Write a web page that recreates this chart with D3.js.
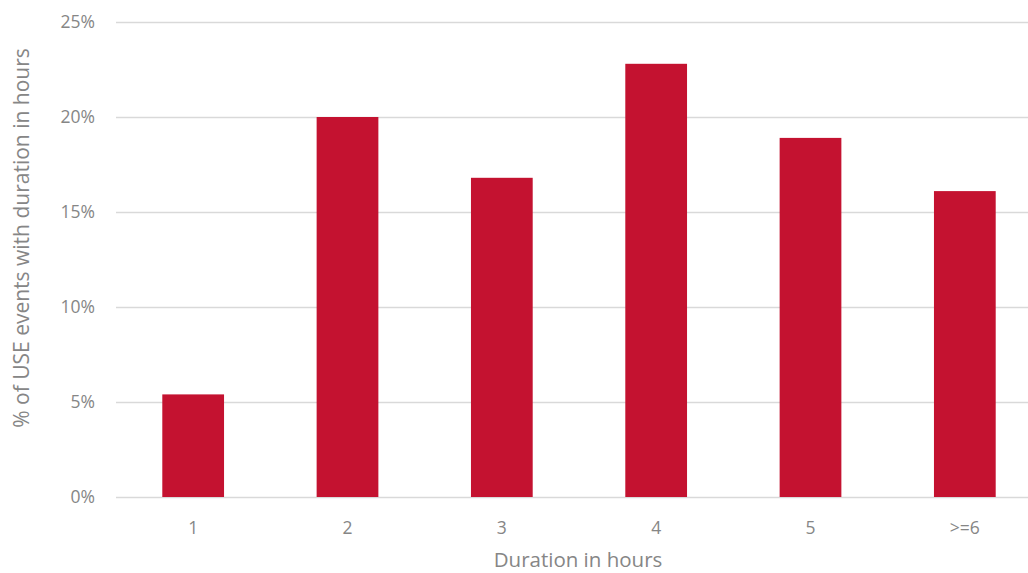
<!DOCTYPE html>
<html>
<head>
<meta charset="utf-8">
<script src="https://cdn.jsdelivr.net/npm/d3@7"></script>
<style>
  html, body { margin: 0; padding: 0; background: #ffffff; overflow: hidden; }
  svg { display: block; }
  svg text { font-family: "Open Sans", "Noto Sans", sans-serif; }
</style>
</head>
<body>
<svg id="chart" width="1028" height="573"></svg>
<script>
// Share of USE events by duration (hours)
const categories = ["1", "2", "3", "4", "5", ">=6"];
const shares = [5.4, 20.0, 16.8, 22.8, 18.9, 16.1];
const yTicks = [0, 5, 10, 15, 20, 25];

const textColor = "#868686";
const svg = d3.select("#chart");
const plot = { left: 116, right: 1042, top: 22, bottom: 497 };

const x = d3.scaleBand()
  .domain(categories)
  .range([plot.left, plot.right])
  .paddingInner(0.6)
  .paddingOuter(0.3);

const y = d3.scaleLinear()
  .domain([0, 25])
  .range([plot.bottom, plot.top]);

// Horizontal gridlines with percentage labels
const yAxis = d3.axisLeft(y)
  .tickValues(yTicks)
  .tickFormat(d => d + "%")
  .tickSize(-(plot.right - plot.left))
  .tickPadding(21);

const gy = svg.append("g")
  .attr("transform", `translate(${plot.left},0)`)
  .call(yAxis)
  .attr("font-family", null)
  .attr("font-size", null);
gy.select(".domain").remove();
gy.selectAll(".tick line").attr("stroke", "#d9d9d9").attr("stroke-width", 1.5);
gy.selectAll(".tick text")
  .attr("fill", textColor)
  .style("font-size", "17.5px");

// Bars
svg.append("g")
  .selectAll("rect")
  .data(categories.map((c, i) => ({ c, v: shares[i] })))
  .join("rect")
  .attr("x", d => x(d.c))
  .attr("width", x.bandwidth())
  .attr("y", d => y(d.v))
  .attr("height", d => y(0) - y(d.v))
  .attr("fill", "#c41230");

// Category labels
const xAxis = d3.axisBottom(x).tickSize(0).tickPadding(25);
const gx = svg.append("g")
  .attr("transform", `translate(0,${plot.bottom})`)
  .call(xAxis)
  .attr("font-family", null)
  .attr("font-size", null);
gx.select(".domain").remove();
gx.selectAll(".tick text")
  .attr("fill", textColor)
  .style("font-size", "17.5px");

// Axis titles
svg.append("text")
  .attr("x", 578)
  .attr("y", 567)
  .attr("text-anchor", "middle")
  .attr("fill", textColor)
  .style("font-size", "20.5px")
  .text("Duration in hours");

svg.append("text")
  .attr("transform", "translate(29,238) rotate(-90)")
  .attr("text-anchor", "middle")
  .attr("fill", textColor)
  .style("font-size", "21px")
  .text("% of USE events with duration in hours");
</script>
</body>
</html>
